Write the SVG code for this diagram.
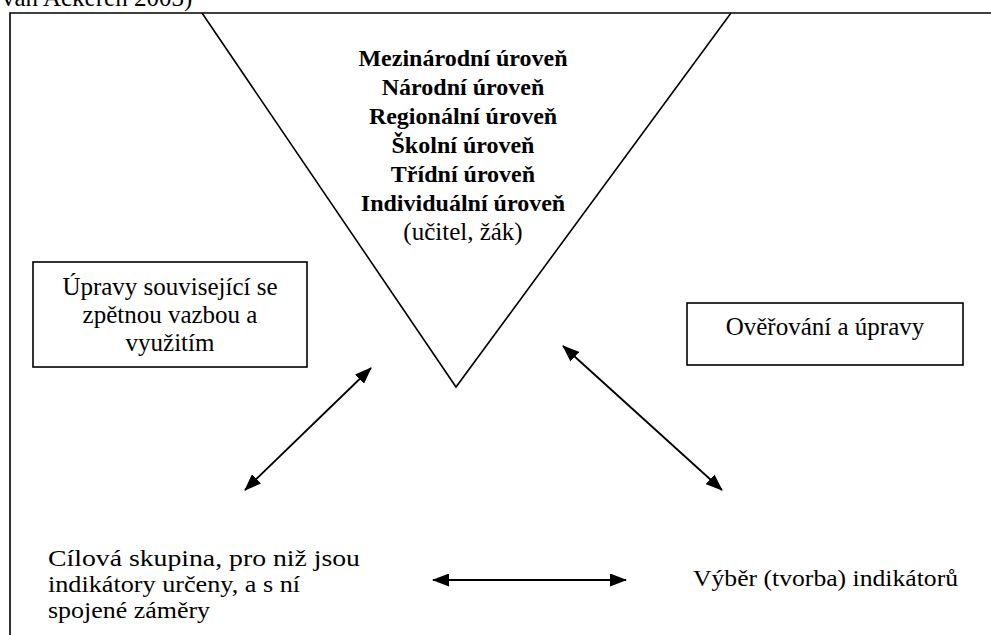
<svg xmlns="http://www.w3.org/2000/svg" width="991" height="635" viewBox="0 0 991 635" font-family="'Liberation Serif', 'DejaVu Serif', serif">
<style>
text{font-family:'Liberation Serif','DejaVu Serif',serif;fill:#000}
.b{font-weight:bold;font-size:24px;text-anchor:middle}
.r{font-size:25px}
.c{text-anchor:middle}
.bt{font-size:23px}
.ln{fill:none;stroke:#000;stroke-width:1.6}
.box{fill:#fff;stroke:#000;stroke-width:1.6}
.arr{stroke:#000;stroke-width:1.8;fill:none;marker-start:url(#ah);marker-end:url(#ah)}
</style>
<defs>
<marker id="ah" viewBox="0 0 17 13" refX="16" refY="6.5" markerWidth="17" markerHeight="13" markerUnits="userSpaceOnUse" orient="auto-start-reverse">
<path d="M0,0 L17,6.5 L0,13 Z" fill="#000"/>
</marker>
</defs>
<rect width="991" height="635" fill="#fff"/>
<text class="r" x="2" y="6">van Ackeren 2003)</text>
<path class="ln" d="M10,640 V13 H1000"/>
<g id="levels">
<polyline class="ln" points="202,13 456,387 731,13"/>
<text class="b" x="463" y="66">Mezinárodní úroveň</text>
<text class="b" x="463" y="95">Národní úroveň</text>
<text class="b" x="463" y="124">Regionální úroveň</text>
<text class="b" x="463" y="153">Školní úroveň</text>
<text class="b" x="463" y="182">Třídní úroveň</text>
<text class="b" x="463" y="211">Individuální úroveň</text>
<text class="r c" x="463" y="240">(učitel, žák)</text>
</g>
<g id="feedback">
<rect class="box" x="33" y="262" width="274" height="105"/>
<text class="r c" x="170" y="295">Úpravy související se</text>
<text class="r c" x="170" y="323">zpětnou vazbou a</text>
<text class="r c" x="170" y="351">využitím</text>
</g>
<g id="verification">
<rect class="box" x="687" y="303" width="276" height="62"/>
<text class="r c" x="825" y="335">Ověřování a úpravy</text>
</g>
<g id="target">
<text class="bt" x="48" y="566" textLength="312" lengthAdjust="spacingAndGlyphs">Cílová skupina, pro niž jsou</text>
<text class="bt" x="48" y="592" textLength="252" lengthAdjust="spacingAndGlyphs">indikátory určeny, a s ní</text>
<text class="bt" x="48" y="618" textLength="162" lengthAdjust="spacingAndGlyphs">spojené záměry</text>
</g>
<g id="selection">
<text class="bt" x="693" y="586" textLength="265" lengthAdjust="spacingAndGlyphs">Výběr (tvorba) indikátorů</text>
</g>
<g id="connectors">
<line class="arr" x1="245" y1="490" x2="371" y2="368"/>
<line class="arr" x1="563" y1="346" x2="722" y2="490"/>
<line class="arr" x1="433" y1="580" x2="626" y2="580"/>
</g>
</svg>
